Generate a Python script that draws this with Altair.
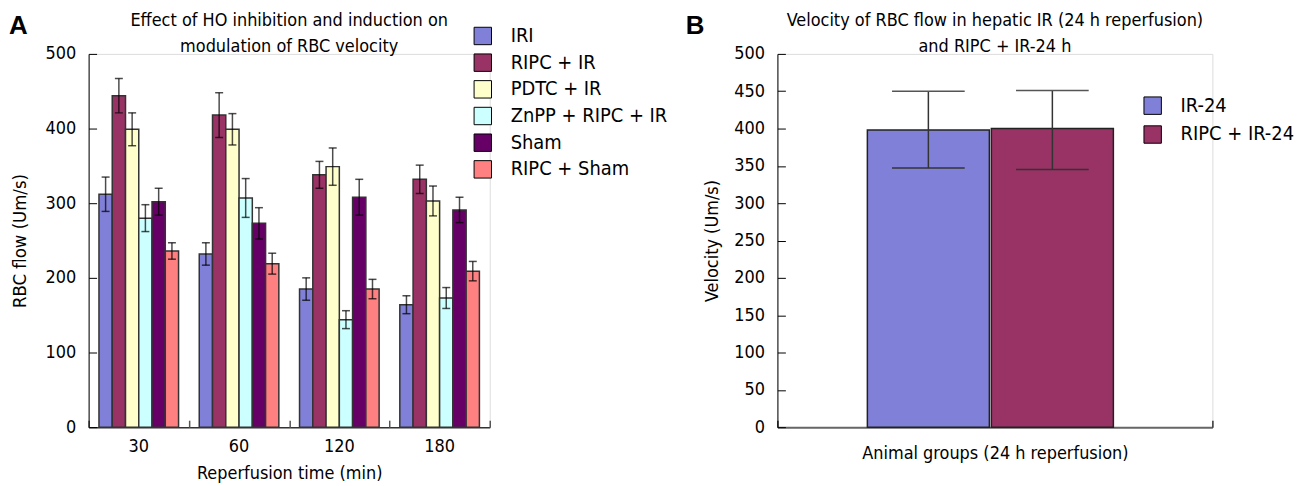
import altair as alt
import pandas as pd

# ---------------- data ----------------
times = ["30", "60", "120", "180"]
groups_a = ["IRI", "RIPC + IR", "PDTC + IR", "ZnPP + RIPC + IR", "Sham", "RIPC + Sham"]
colors_a = ["#8080D8", "#993366", "#FFFFCC", "#CCFFFF", "#660066", "#FF8080"]

iri = [312, 232, 185, 164]
ripc_ir = [444, 418, 338, 332]
pdtc_ir = [399, 399, 349, 303]
znpp_ripc_ir = [280, 307, 144, 173]
sham = [302, 273, 308, 291]
ripc_sham = [236, 219, 185, 209]

iri_err = [23, 15, 15, 12]
ripc_ir_err = [23, 30, 18, 19]
pdtc_ir_err = [22, 21, 25, 20]
znpp_ripc_ir_err = [18, 26, 12, 14]
sham_err = [18, 21, 24, 17]
ripc_sham_err = [11, 14, 13, 13]

groups_b = ["IR-24", "RIPC + IR-24"]
colors_b = ["#8080D8", "#993366"]
velocity_b = [398, 400]
velocity_b_lo = [347, 345]
velocity_b_hi = [450, 451]
period_b = ["24 h", "24 h"]

title_a = "Effect of HO inhibition and induction on\nmodulation of RBC velocity"
title_b = "Velocity of RBC flow in hepatic IR (24 h reperfusion)\nand RIPC + IR-24 h"

means_a = [iri, ripc_ir, pdtc_ir, znpp_ripc_ir, sham, ripc_sham]
errs_a = [iri_err, ripc_ir_err, pdtc_ir_err, znpp_ripc_ir_err, sham_err, ripc_sham_err]

rows = []
for g, m, e in zip(groups_a, means_a, errs_a):
    for t, v, s in zip(times, m, e):
        rows.append({"time": t, "group": g, "flow": v, "lo": v - s, "hi": v + s})
df_a = pd.DataFrame(rows)

df_b = pd.DataFrame({"period": period_b, "group": groups_b, "vel": velocity_b,
                     "lo": velocity_b_lo, "hi": velocity_b_hi})

FONT = "DejaVu Sans Condensed, DejaVu Sans, sans-serif"
WA, HA = 403, 375
WB, HB = 437, 375


def text_layer(label, x, y, size, bold=False, align="left", font=FONT):
    return alt.Chart(pd.DataFrame({"label": [label]})).mark_text(
        font=font, fontSize=size, fontWeight="bold" if bold else "normal",
        align=align, baseline="alphabetic", color="#000", lineBreak="\n",
        lineHeight=26).encode(text="label:N", x=alt.value(x), y=alt.value(y))


# ---------------- panel A ----------------
x_scale_a = alt.Scale(paddingInner=0, paddingOuter=0)
xo_scale_a = alt.Scale(paddingInner=0, paddingOuter=0.78)
y_scale_a = alt.Scale(domain=[0, 500], nice=False)

axis_x_a = alt.Axis(orient="bottom", labelAngle=0, labelFontSize=18, labelPadding=10,
                    ticks=False, domainColor="#333", domainWidth=1.5, grid=False,
                    title="Reperfusion time (min)", titleFontSize=18,
                    titleFontWeight="normal", titlePadding=10, labelColor="#000",
                    titleColor="#000", labelFont=FONT, titleFont=FONT)
axis_y_a = alt.Axis(orient="left", values=[0, 100, 200, 300, 400, 500], labelFontSize=18,
                    labelPadding=13, ticks=False, domainColor="#000", domainWidth=1,
                    grid=False, title="RBC flow (Um/s)", titleFontSize=18.5,
                    titleFontWeight="normal", titlePadding=16, labelColor="#000",
                    titleColor="#000", labelFont=FONT, titleFont=FONT)
axis_x_a_ticks = alt.Axis(orient="top", offset=-HA, labels=False, domain=False, ticks=True,
                          tickSize=7, tickBand="extent", tickColor="#555", tickWidth=1.5,
                          grid=False, title=None)
axis_y_a_ticks = alt.Axis(orient="right", offset=-WA, labels=False, domain=False, ticks=True,
                          tickSize=8, tickColor="#000", tickWidth=1,
                          values=[0, 100, 200, 300, 400, 500], grid=False, title=None)

legend_a = alt.Legend(orient="none", legendX=386, legendY=-28, title=None, labelFontSize=20,
                      labelFont=FONT, labelColor="#000", labelLimit=400, symbolType="square",
                      symbolSize=306, symbolStrokeColor="#000", symbolStrokeWidth=1,
                      symbolOpacity=1, labelOffset=18, rowPadding=4.8)

bars_a = alt.Chart(df_a).mark_bar(stroke="#333", strokeWidth=1.5).encode(
    x=alt.X("time:N", sort=times, scale=x_scale_a, axis=axis_x_a),
    xOffset=alt.XOffset("group:N", sort=groups_a, scale=xo_scale_a),
    y=alt.Y("flow:Q", scale=y_scale_a, axis=axis_y_a),
    color=alt.Color("group:N", sort=groups_a,
                    scale=alt.Scale(domain=groups_a, range=colors_a), legend=legend_a),
)
rule_a = alt.Chart(df_a).mark_rule(color="#000", opacity=0.7, strokeWidth=1.5).encode(
    x=alt.X("time:N", sort=times, axis=axis_x_a_ticks),
    xOffset=alt.XOffset("group:N", sort=groups_a),
    y=alt.Y("lo:Q", axis=axis_y_a_ticks),
    y2="hi:Q",
)
cap_lo_a = alt.Chart(df_a).mark_tick(orient="horizontal", size=8, thickness=1.5,
                                     color="#000", opacity=0.7).encode(
    x=alt.X("time:N", sort=times, axis=None),
    xOffset=alt.XOffset("group:N", sort=groups_a),
    y=alt.Y("lo:Q", axis=None),
)
cap_hi_a = alt.Chart(df_a).mark_tick(orient="horizontal", size=8, thickness=1.5,
                                     color="#000", opacity=0.7).encode(
    x=alt.X("time:N", sort=times, axis=None),
    xOffset=alt.XOffset("group:N", sort=groups_a),
    y=alt.Y("hi:Q", axis=None),
)
letter_a = text_layer("A", -80, -20, 26, bold=True, font="Liberation Sans")
head_a = text_layer(title_a, WA / 2, -28, 18, align="center")

panel_a = alt.layer(bars_a, rule_a, cap_lo_a, cap_hi_a, letter_a, head_a).resolve_axis(
    x="independent", y="independent").properties(width=WA, height=HA)

# ---------------- panel B ----------------
x_scale_b = alt.Scale(paddingInner=0, paddingOuter=0)
xo_scale_b = alt.Scale(paddingInner=0.016, paddingOuter=0.762, align=0.476)
y_scale_b = alt.Scale(domain=[0, 500], nice=False)
vals_b = [0, 50, 100, 150, 200, 250, 300, 350, 400, 450, 500]

axis_x_b = alt.Axis(orient="bottom", labels=False, ticks=False, domainColor="#666",
                    domainWidth=2, grid=False, title="Animal groups (24 h reperfusion)",
                    titleFontSize=18, titleFontWeight="normal", titlePadding=17,
                    titleColor="#000", titleFont=FONT)
axis_y_b = alt.Axis(orient="left", values=vals_b, labelFontSize=18, labelPadding=13,
                    ticks=False, domainColor="#000", domainWidth=1, grid=False,
                    title="Velocity (Um/s)", titleFontSize=18, titleFontWeight="normal",
                    titlePadding=12, labelColor="#000", titleColor="#000",
                    labelFont=FONT, titleFont=FONT)
axis_x_b_ticks = alt.Axis(orient="top", offset=-HB, labels=False, domain=False, ticks=True,
                          tickSize=7, tickBand="extent", tickColor="#333", tickWidth=1.5,
                          grid=False, title=None)
axis_y_b_ticks = alt.Axis(orient="right", offset=-WB, labels=False, domain=False, ticks=True,
                          tickSize=8, tickColor="#000", tickWidth=1, values=vals_b,
                          grid=False, title=None)

legend_b = alt.Legend(orient="none", legendX=367, legendY=42, title=None, labelFontSize=20,
                      labelFont=FONT, labelColor="#000", labelLimit=400, symbolType="square",
                      symbolSize=306, symbolStrokeColor="#000", symbolStrokeWidth=1,
                      symbolOpacity=1, labelOffset=18, rowPadding=7)

bars_b = alt.Chart(df_b).mark_bar(stroke="#222", strokeWidth=1.5).encode(
    x=alt.X("period:N", scale=x_scale_b, axis=axis_x_b),
    xOffset=alt.XOffset("group:N", sort=groups_b, scale=xo_scale_b),
    y=alt.Y("vel:Q", scale=y_scale_b, axis=axis_y_b),
    color=alt.Color("group:N", sort=groups_b,
                    scale=alt.Scale(domain=groups_b, range=colors_b), legend=legend_b),
)
rule_b = alt.Chart(df_b).mark_rule(color="#333", strokeWidth=1.5).encode(
    x=alt.X("period:N", axis=axis_x_b_ticks),
    xOffset=alt.XOffset("group:N", sort=groups_b),
    y=alt.Y("lo:Q", axis=axis_y_b_ticks),
    y2="hi:Q",
)
cap_lo_b = alt.Chart(df_b).mark_tick(orient="horizontal", size=73, thickness=1.5,
                                     color="#333", opacity=1).encode(
    x=alt.X("period:N", axis=None),
    xOffset=alt.XOffset("group:N", sort=groups_b),
    y=alt.Y("lo:Q", axis=None),
)
cap_hi_b = alt.Chart(df_b).mark_tick(orient="horizontal", size=73, thickness=1.5,
                                     color="#555", opacity=1).encode(
    x=alt.X("period:N", axis=None),
    xOffset=alt.XOffset("group:N", sort=groups_b),
    y=alt.Y("hi:Q", axis=None),
)
letter_b = text_layer("B", -92, -20, 26, bold=True, font="Liberation Sans")
head_b = text_layer(title_b, WB / 2, -28, 18, align="center")

panel_b = alt.layer(bars_b, rule_b, cap_lo_b, cap_hi_b, letter_b, head_b).resolve_axis(
    x="independent", y="independent").properties(width=WB, height=HB)

chart = alt.hconcat(panel_a, panel_b, spacing=289, bounds="flush",
                    padding={"left": 0, "top": 2, "right": 0, "bottom": 0}).resolve_scale(
    x="independent", y="independent", xOffset="independent", color="independent"
).configure_view(stroke=None).configure(font=FONT)

chart.save("out.html", embed_options={"renderer": "svg", "actions": False})
